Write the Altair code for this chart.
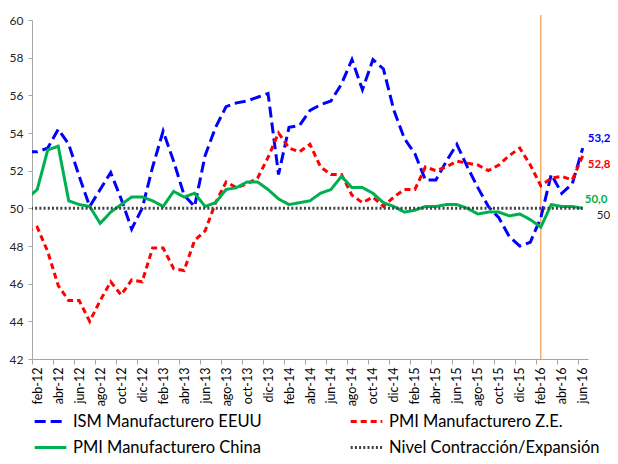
import altair as alt
import pandas as pd

months = ["feb-12", "mar-12", "abr-12", "may-12", "jun-12", "jul-12", "ago-12", "sep-12", "oct-12", "nov-12", "dic-12",
          "ene-13", "feb-13", "mar-13", "abr-13", "may-13", "jun-13", "jul-13", "ago-13", "sep-13", "oct-13", "nov-13", "dic-13",
          "ene-14", "feb-14", "mar-14", "abr-14", "may-14", "jun-14", "jul-14", "ago-14", "sep-14", "oct-14", "nov-14", "dic-14",
          "ene-15", "feb-15", "mar-15", "abr-15", "may-15", "jun-15", "jul-15", "ago-15", "sep-15", "oct-15", "nov-15", "dic-15",
          "ene-16", "feb-16", "mar-16", "abr-16", "may-16", "jun-16"]

ism_eeuu = [53.0, 53.2, 54.2, 53.4, 51.7, 50.1, 51.0, 51.9, 50.5, 48.9, 50.0,
            52.2, 54.1, 52.5, 50.7, 50.1, 52.8, 54.3, 55.4, 55.6, 55.7, 55.9, 56.1,
            51.8, 54.3, 54.4, 55.2, 55.5, 55.7, 56.6, 57.9, 56.3, 57.9, 57.4, 55.2,
            53.7, 52.9, 51.5, 51.5, 52.5, 53.4, 52.2, 51.1, 50.1, 49.5, 48.5, 48.0,
            48.2, 49.5, 51.8, 50.8, 51.3, 53.2]
pmi_ze = [49.0, 47.7, 45.9, 45.1, 45.1, 44.0, 45.1, 46.1, 45.4, 46.2, 46.1,
          47.9, 47.9, 46.8, 46.7, 48.3, 48.8, 50.3, 51.4, 51.1, 51.3, 51.6, 52.7,
          54.0, 53.2, 53.0, 53.4, 52.2, 51.8, 51.8, 50.7, 50.3, 50.6, 50.1, 50.6,
          51.0, 51.0, 52.2, 52.0, 52.2, 52.5, 52.4, 52.3, 52.0, 52.3, 52.8, 53.2,
          52.3, 51.2, 51.6, 51.7, 51.5, 52.8]
pmi_china = [51.0, 53.1, 53.3, 50.4, 50.2, 50.1, 49.2, 49.8, 50.2, 50.6, 50.6,
             50.4, 50.1, 50.9, 50.6, 50.8, 50.1, 50.3, 51.0, 51.1, 51.4, 51.4, 51.0,
             50.5, 50.2, 50.3, 50.4, 50.8, 51.0, 51.7, 51.1, 51.1, 50.8, 50.3, 50.1,
             49.8, 49.9, 50.1, 50.1, 50.2, 50.2, 50.0, 49.7, 49.8, 49.8, 49.6, 49.7,
             49.4, 49.0, 50.2, 50.1, 50.1, 50.0]
nivel = [50.0] * len(months)

# previous month (ene-12), only visible as the clipped start of each line
prev_values = [53.0, 48.8, 50.5, 50.0]

series_names = ["ISM Manufacturero EEUU", "PMI Manufacturero Z.E.",
                "PMI Manufacturero China", "Nivel Contracción/Expansión"]
series_colors = ["#0000FF", "#FF0000", "#00B050", "#404040"]
series_dash = [[11, 5], [6, 4], [1, 0], [2, 2.2]]
series_width = [3, 3, 3, 2.5]

end_labels = ["53,2", "52,8", "50,0", "50"]
end_values = [53.2, 52.8, 50.0, 50.0]
end_colors = ["#0000FF", "#FF0000", "#00B050", "#262626"]

marker_month = "feb-16"

FONT = "Lato"
W, H = 556, 339
cat_w = W / len(months)

rows = []
for name, vals, prev in zip(series_names, [ism_eeuu, pmi_ze, pmi_china, nivel], prev_values):
    rows.append({"serie": name, "i": -1, "v": prev})
    for k, v in enumerate(vals):
        rows.append({"serie": name, "i": k, "v": v})
df = pd.DataFrame(rows)

label_arr = "[" + ",".join("'%s'" % m for m in months[::2]) + "]"
x_scale = alt.Scale(domain=[-0.5, len(months) - 0.5], nice=False, zero=False)
y_scale = alt.Scale(domain=[42, 60], nice=False, zero=False)

x_axis = alt.Axis(
    values=[k - 0.5 for k in range(0, len(months), 2)],
    labelExpr=label_arr + "[round((datum.value + 0.5) / 2)]",
    labelAngle=-90, labelOffset=cat_w / 2, labelFlush=False, labelOverlap=False,
    labelFont=FONT, labelFontSize=12.5, labelColor="#000000", labelPadding=3,
    tickSize=5, tickColor="#A6A6A6", domainColor="#A6A6A6", grid=False, title=None,
)
y_axis = alt.Axis(
    values=list(range(42, 61, 2)), labelFont=FONT, labelFontSize=12, labelColor="#262626",
    labelPadding=5, tickSize=4, tickColor="#A6A6A6", domainColor="#A6A6A6",
    grid=False, title=None, labelFlush=False, labelOverlap=False,
)

X = alt.X("i:Q", scale=x_scale, axis=x_axis)

lines = alt.Chart(df).mark_line(clip=True, strokeCap="butt", strokeJoin="miter").encode(
    x=X,
    y=alt.Y("v:Q", scale=y_scale, axis=y_axis),
    color=alt.Color("serie:N", scale=alt.Scale(domain=series_names, range=series_colors),
                    legend=alt.Legend(
                        orient="none", legendX=1, legendY=384, columns=2, direction="horizontal",
                        title=None, symbolType="stroke", symbolSize=1000, symbolStrokeWidth=3,
                        labelFont=FONT, labelFontSize=16.5, labelColor="#000000",
                        labelLimit=500, labelOffset=5, columnPadding=82, rowPadding=-13,
                    )),
    strokeDash=alt.StrokeDash("serie:N", scale=alt.Scale(domain=series_names, range=series_dash)),
    strokeWidth=alt.StrokeWidth("serie:N", scale=alt.Scale(domain=series_names, range=series_width),
                                legend=None),
    order="i:Q",
)

marker_df = pd.DataFrame({"i": [months.index(marker_month)], "top": [60.27], "bottom": [42.0]})
rule = alt.Chart(marker_df).mark_rule(color="#F5A05A", strokeWidth=1.3).encode(
    x=X,
    y=alt.Y("top:Q", scale=y_scale, axis=y_axis),
    y2="bottom:Q",
)

text_layers = []
offsets = [(5, -9, "bold"), (5, 9, "bold"), (2, -8.5, "bold"), (14, 7.5, "normal")]
for lab, val, col, (dx, dy, wt) in zip(end_labels, end_values, end_colors, offsets):
    tdf = pd.DataFrame({"i": [len(months) - 1], "v": [val], "t": [lab]})
    text_layers.append(
        alt.Chart(tdf).mark_text(align="left", baseline="middle", dx=dx, dy=dy, color=col,
                                 font=FONT, fontSize=11.5, fontWeight=wt).encode(
            x=X,
            y=alt.Y("v:Q", scale=y_scale, axis=y_axis),
            text="t:N")
    )

chart = alt.layer(rule, lines, *text_layers).properties(
    width=W, height=H,
    padding={"left": 24, "top": 12, "right": 22, "bottom": 97},
    autosize=alt.AutoSizeParams(type="none"),
    background="white",
).configure_view(stroke=None)

chart.save("out.html", embed_options={"renderer": "svg", "actions": False})
